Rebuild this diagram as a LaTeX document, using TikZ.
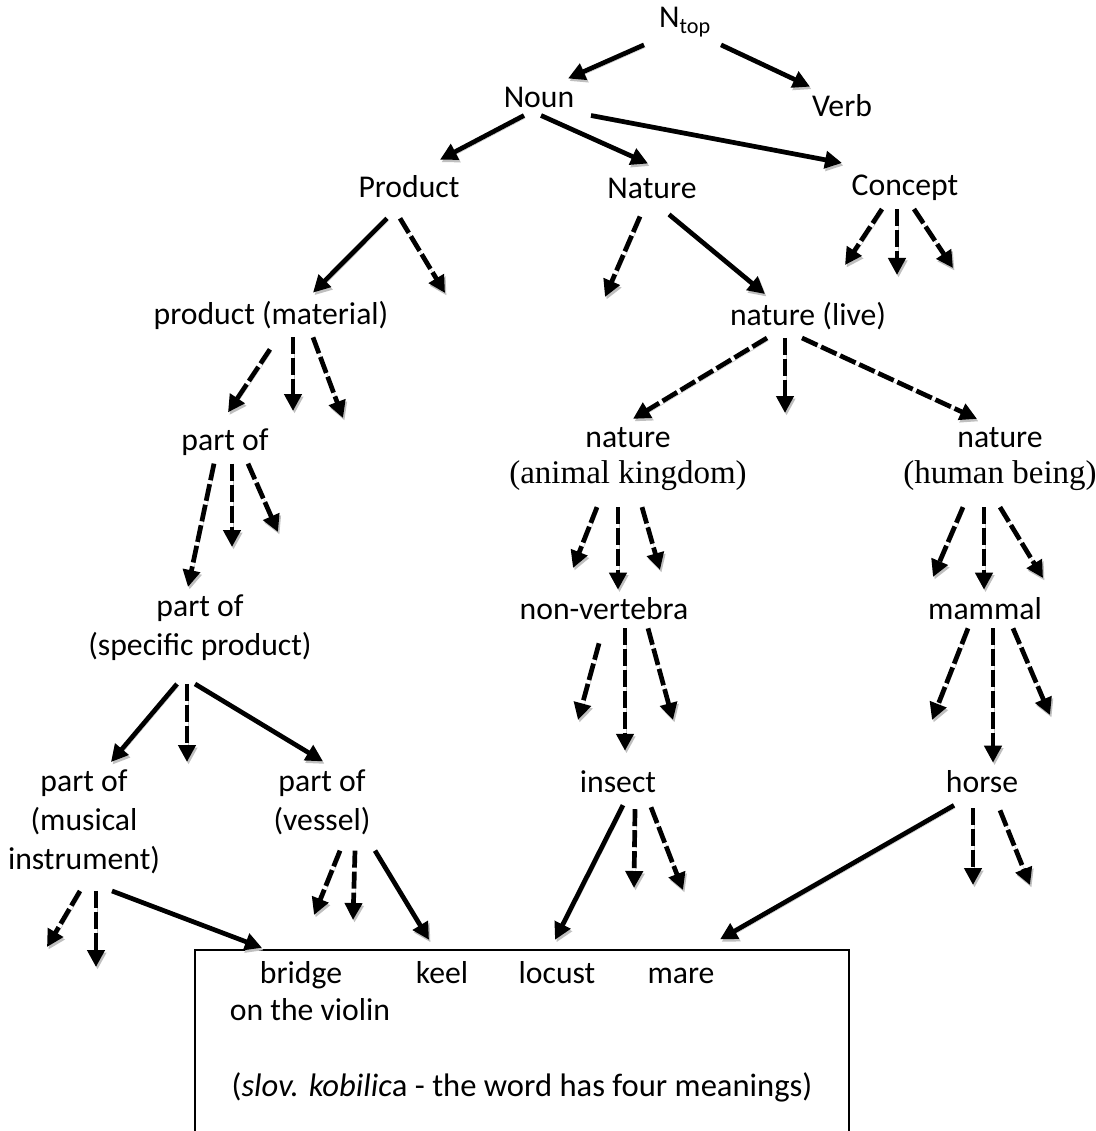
\documentclass[tikz,border=0pt]{standalone}
\usepackage{fontspec}
\setmainfont{Carlito}
\newfontfamily\serifpart{Liberation Serif}
\usetikzlibrary{arrows.meta}

\begin{document}
\begin{tikzpicture}[
  x=1pt, y=-1pt,
  font=\fontsize{31.7}{38.7}\selectfont,
  lbl/.style={inner sep=8pt, align=center},
  word/.style={inner sep=8pt, anchor=base},
  shade/.style={preaction={draw=black!25, transform canvas={xshift=1.5pt,yshift=-2.5pt}}},
  arr/.style={shade, -{Triangle[length=17pt,width=17pt]}, line width=4.7pt},
  darr/.style={arr, dash pattern=on 17pt off 4pt},
]
\useasboundingbox (0,0) rectangle (1095,1131);
\node[lbl] (ntop) at (685,22) {N\textsubscript{top}};
\node[lbl] (noun) at (539,97) {Noun};
\node[lbl] (verb) at (842,106) {Verb};
\node[lbl] (prod) at (409,187) {Product};
\node[lbl] (natr) at (652,188) {Nature};
\node[lbl] (conc) at (905,188) {Concept};
\node[lbl] (pmat) at (271,315) {product (material)};
\node[lbl] (nliv) at (808,316) {nature (live)};
\node[lbl] (part) at (225,442) {part of};
\node[lbl] (nani) at (628,459) {nature\\[-2pt]{\serifpart\fontsize{33}{38}\selectfont (animal kingdom)}};
\node[lbl] (nhum) at (1000,459) {nature\\[-2pt]{\serifpart\fontsize{33}{38}\selectfont (human being)}};
\node[lbl] (pspe) at (200,628) {part of\\(specific product)};
\node[lbl] (nver) at (604,609) {non-vertebra};
\node[lbl] (mamm) at (985,609) {mammal};
\node[lbl] (pmus) at (84,822) {part of\\(musical\\instrument)};
\node[lbl] (pves) at (322,802) {part of\\(vessel)};
\node[lbl] (inse) at (618,782) {insect};
\node[lbl] (hors) at (982,782) {horse};

\node[draw, line width=2pt, anchor=north west, minimum width=654pt, minimum height=182pt,
      inner sep=0pt] (kbox) at (194,949) {};
\node[word] (brid) at (301,983) {bridge};
\node[word] (viol) at (310,1020) {on the violin};
\node[word] (keel) at (442,983) {keel};
\node[word] (locu) at (557,983) {locust};
\node[word] (mare) at (681,983) {mare};
\node[word, font=\fontsize{32.6}{38.7}\selectfont] (note) at (522,1096)
  {(\textit{slov. kobilic}a - the word has four meanings)};

\coordinate (prodB) at (445,293);
\coordinate (natrA) at (605,297);
\coordinate (concA) at (845,265);
\coordinate (concB) at (897,275);
\coordinate (concC) at (953,268);
\coordinate (pmatB) at (293,411);
\coordinate (pmatC) at (343,418);
\coordinate (partB) at (232,547);
\coordinate (partC) at (278,532);
\coordinate (nlivB) at (785,413);
\coordinate (naniA) at (573,568);
\coordinate (naniC) at (660,570);
\coordinate (nhumA) at (933,577);
\coordinate (nhumC) at (1043,578);
\coordinate (pspeB) at (187,762);
\coordinate (nverA) at (578,720);
\coordinate (nverC) at (673,720);
\coordinate (mammA) at (932,720);
\coordinate (mammC) at (1050,715);
\coordinate (pmusA) at (47,947);
\coordinate (pmusB) at (96,967);
\coordinate (pvesA) at (314,915);
\coordinate (pvesB) at (353,920);
\coordinate (inseB) at (634,888);
\coordinate (inseC) at (683,890);
\coordinate (horsB) at (973,885);
\coordinate (horsC) at (1030,885);

\draw[arr] ([xshift=-41pt]ntop.south) -- ([xshift=29pt]noun.north);
\draw[arr] ([xshift=36pt]ntop.south) -- ([xshift=-32pt]verb.north);
\draw[arr] ([xshift=-15pt]noun.south) -- ([xshift=31pt,yshift=8pt]prod.north);
\draw[arr] ([xshift=2pt]noun.south) -- ([xshift=-4pt,yshift=6pt]natr.north);
\draw[arr] ([xshift=52pt]noun.south) -- ([xshift=-63pt,yshift=4pt]conc.north);

\draw[arr] ([xshift=-22pt,yshift=-12pt]prod.south) -- ([xshift=42pt]pmat.north);
\draw[darr] ([xshift=-9pt,yshift=-12pt]prod.south) -- (prodB);
\draw[darr] ([xshift=-12pt,yshift=-10pt]natr.south) -- (natrA);
\draw[arr] ([xshift=17pt,yshift=-8pt]natr.south) -- ([xshift=-43pt]nliv.north);
\draw[darr] ([xshift=-23pt]conc.south) -- (concA);
\draw[darr] ([xshift=-8pt]conc.south) -- (concB);
\draw[darr] ([xshift=9pt]conc.south) -- (concC);

\draw[darr] ([xshift=-1pt,yshift=-12pt]pmat.south) -- ([xshift=3pt,yshift=8pt]part.north);
\draw[darr] ([xshift=22pt]pmat.south) -- (pmatB);
\draw[darr] ([xshift=42pt]pmat.south) -- (pmatC);
\draw[darr] ([xshift=-41pt]nliv.south) -- ([xshift=5pt]nani.north);
\draw[darr] ([xshift=-23pt]nliv.south) -- (nlivB);
\draw[darr] ([xshift=-6pt]nliv.south) -- ([xshift=-23pt]nhum.north);

\draw[darr] ([xshift=-11pt]part.south) -- ([xshift=-12pt]pspe.north);
\draw[darr] ([xshift=7pt]part.south) -- (partB);
\draw[darr] ([xshift=23pt]part.south) -- (partC);
\draw[darr] ([xshift=-31pt,yshift=-8pt]nani.south) -- (naniA);
\draw[darr] ([xshift=-10pt,yshift=-8pt]nani.south) -- ([xshift=14pt]nver.north);
\draw[darr] ([xshift=14pt,yshift=-8pt]nani.south) -- (naniC);
\draw[darr] ([xshift=-37pt,yshift=-8pt]nhum.south) -- (nhumA);
\draw[darr] ([xshift=-16pt,yshift=-8pt]nhum.south) -- ([xshift=-1pt]mamm.north);
\draw[darr] ([xshift=0pt,yshift=-8pt]nhum.south) -- (nhumC);

\draw[arr] ([xshift=-23pt,yshift=-15pt]pspe.south) -- ([xshift=27pt]pmus.north);
\draw[darr] ([xshift=-13pt,yshift=-15pt]pspe.south) -- (pspeB);
\draw[arr] ([xshift=-5pt,yshift=-15pt]pspe.south) -- ([xshift=1pt]pves.north);
\draw[darr] ([xshift=-5pt,yshift=-15pt]nver.south) -- (nverA);
\draw[darr] ([xshift=21pt]nver.south) -- ([xshift=7pt,yshift=12pt]inse.north);
\draw[darr] ([xshift=44pt]nver.south) -- (nverC);
\draw[darr] ([xshift=-17pt]mamm.south) -- (mammA);
\draw[darr] ([xshift=8pt]mamm.south) -- ([xshift=11pt]hors.north);
\draw[darr] ([xshift=28pt]mamm.south) -- (mammC);

\draw[darr] ([xshift=-4pt,yshift=-9pt]pmus.south) -- (pmusA);
\draw[darr] ([xshift=12pt,yshift=-9pt]pmus.south) -- (pmusB);
\draw[arr] ([xshift=28pt,yshift=-9pt]pmus.south) -- ([xshift=-39pt,yshift=5pt]brid.north);
\draw[darr] ([xshift=18pt,yshift=-8pt]pves.south) -- (pvesA);
\draw[darr] ([xshift=33pt,yshift=-8pt]pves.south) -- (pvesB);
\draw[arr] ([xshift=53pt,yshift=-8pt]pves.south) -- ([xshift=-13pt,yshift=13pt]keel.north);
\draw[arr] ([xshift=5pt,yshift=-4pt]inse.south) -- ([xshift=-2pt,yshift=13pt]locu.north);
\draw[darr] ([xshift=17pt,yshift=-8pt]inse.south) -- (inseB);
\draw[darr] ([xshift=33pt,yshift=-6pt]inse.south) -- (inseC);
\draw[arr] ([xshift=-28pt,yshift=-4pt]hors.south) -- ([xshift=39pt,yshift=20pt]mare.north);
\draw[darr] ([xshift=-9pt,yshift=-7pt]hors.south) -- (horsB);
\draw[darr] ([xshift=18pt,yshift=-9pt]hors.south) -- (horsC);
\end{tikzpicture}
\end{document}
